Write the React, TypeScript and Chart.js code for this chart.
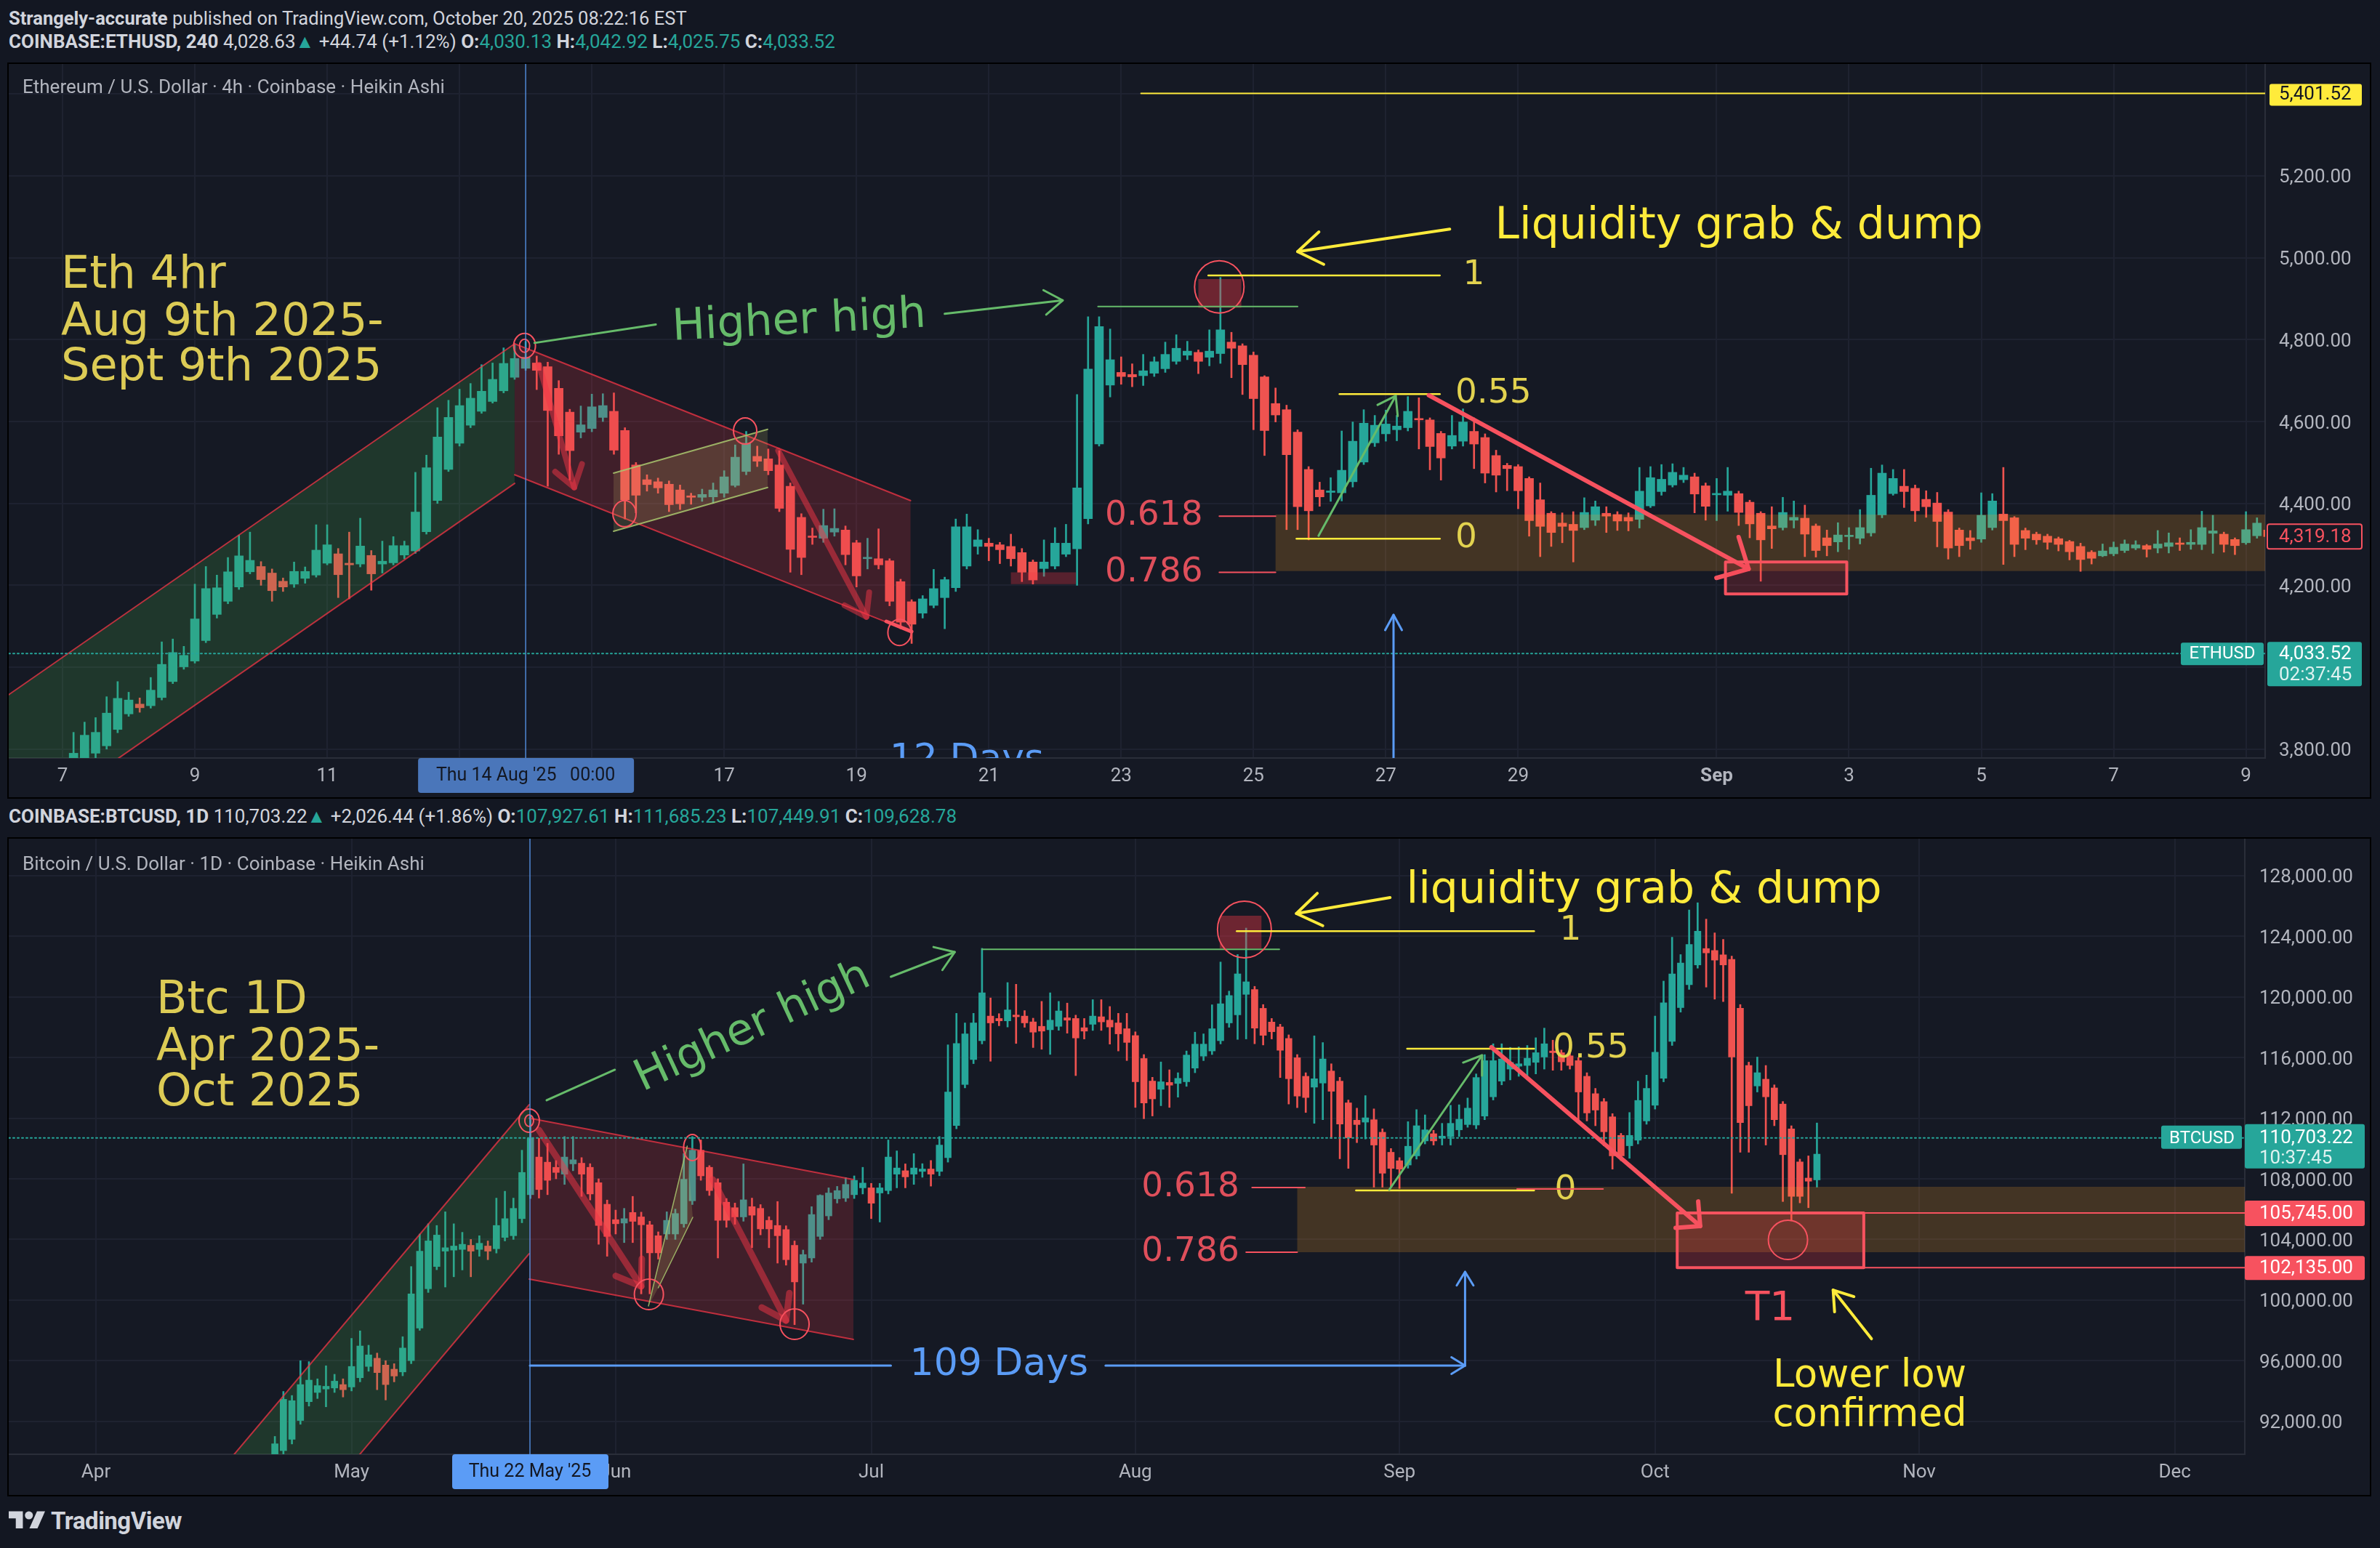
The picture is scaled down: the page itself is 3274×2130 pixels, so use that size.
import React, { useEffect, useRef } from "react";
import { Chart, registerables } from "chart.js";

Chart.register(...registerables);

// ================= DATA =================
// ETH/USD 4h Heikin Ashi bars. Bar index 0 = Thu 7 Aug 2025 00:00, one index = 4 hours.
const ethFirstBar = 1;
const ethOpen = [
  3740, 3760, 3790, 3808, 3848, 3886, 3910, 3906, 3926, 3965,
  4001, 4015, 4065, 4129, 4161, 4196, 4233, 4246, 4230, 4210,
  4203, 4217, 4225, 4254, 4277, 4254, 4252, 4273, 4252, 4255,
  4274, 4284, 4331, 4407, 4483, 4547, 4591, 4625, 4649, 4675,
  4708, 4730, 4743, 4734, 4681, 4623, 4574, 4583, 4610, 4625,
  4578, 4494, 4458, 4453, 4447, 4433, 4418, 4415, 4416, 4425,
  4444, 4478, 4515, 4509, 4494, 4442, 4366, 4320, 4315, 4330,
  4335, 4304, 4265, 4265, 4260, 4209, 4160, 4132, 4151, 4170,
  4194, 4247, 4295, 4303, 4299, 4295, 4280, 4257, 4241, 4247,
  4276, 4289, 4363, 4545, 4689, 4720, 4715, 4712, 4718, 4729,
  4747, 4762, 4769, 4757, 4766, 4794, 4785, 4762, 4709, 4644,
  4629, 4574, 4483, 4433, 4427, 4426, 4453, 4501, 4548, 4570,
  4580, 4585, 4607, 4604, 4571, 4540, 4552, 4576, 4561, 4517,
  4493, 4490, 4461, 4409, 4376, 4352, 4349, 4341, 4359, 4376,
  4373, 4366, 4361, 4394, 4429, 4445, 4458, 4465, 4443, 4421,
  4420, 4424, 4403, 4376, 4345, 4341, 4359, 4364, 4345, 4316,
  4306, 4319, 4315, 4328, 4372, 4424, 4442, 4437, 4410, 4401,
  4379, 4335, 4316, 4313, 4341, 4374, 4365, 4334, 4325, 4320,
  4314, 4307, 4295, 4281, 4272, 4277, 4285, 4291, 4297, 4291,
  4295, 4302, 4300, 4300, 4327, 4325, 4312, 4304, 4321, 4335,
];
const ethHigh = [
  3841, 3866, 3877, 3928, 3965, 3939, 3925, 3975, 4062, 4069,
  4051, 4203, 4246, 4225, 4268, 4323, 4330, 4258, 4240, 4218,
  4257, 4245, 4348, 4348, 4290, 4330, 4364, 4285, 4308, 4319,
  4308, 4476, 4518, 4634, 4652, 4679, 4693, 4739, 4743, 4780,
  4788, 4796, 4760, 4745, 4700, 4630, 4638, 4667, 4668, 4670,
  4585, 4500, 4470, 4462, 4455, 4445, 4425, 4435, 4450, 4480,
  4543, 4576, 4540, 4533, 4529, 4450, 4375, 4340, 4386, 4387,
  4345, 4310, 4315, 4338, 4265, 4215, 4165, 4175, 4239, 4220,
  4362, 4374, 4336, 4315, 4305, 4325, 4290, 4262, 4311, 4341,
  4349, 4666, 4856, 4856, 4826, 4758, 4741, 4764, 4758, 4794,
  4812, 4796, 4775, 4824, 4952, 4818, 4790, 4770, 4712, 4682,
  4640, 4580, 4490, 4452, 4463, 4577, 4599, 4629, 4615, 4628,
  4615, 4661, 4658, 4609, 4576, 4615, 4631, 4609, 4570, 4530,
  4498, 4495, 4465, 4450, 4380, 4377, 4380, 4414, 4406, 4392,
  4380, 4377, 4488, 4490, 4495, 4497, 4488, 4474, 4450, 4461,
  4488, 4430, 4408, 4380, 4392, 4415, 4406, 4396, 4350, 4335,
  4353, 4341, 4385, 4486, 4494, 4483, 4483, 4445, 4431, 4427,
  4385, 4340, 4334, 4426, 4424, 4488, 4368, 4340, 4330, 4325,
  4318, 4310, 4303, 4285, 4301, 4306, 4311, 4309, 4300, 4334,
  4328, 4316, 4336, 4381, 4371, 4330, 4316, 4380, 4365, 4345,
];
const ethLow = [
  3720, 3740, 3770, 3800, 3840, 3880, 3890, 3900, 3920, 3960,
  3995, 4010, 4060, 4120, 4155, 4190, 4228, 4200, 4161, 4185,
  4195, 4205, 4220, 4250, 4170, 4167, 4245, 4188, 4230, 4250,
  4265, 4278, 4325, 4400, 4478, 4540, 4585, 4620, 4645, 4670,
  4703, 4725, 4678, 4442, 4520, 4457, 4560, 4575, 4600, 4520,
  4362, 4377, 4430, 4425, 4380, 4385, 4398, 4405, 4400, 4415,
  4440, 4470, 4490, 4470, 4380, 4232, 4226, 4300, 4305, 4320,
  4250, 4196, 4240, 4240, 4150, 4094, 4058, 4120, 4145, 4094,
  4185, 4240, 4276, 4260, 4253, 4247, 4209, 4203, 4222, 4240,
  4270, 4200, 4350, 4540, 4660, 4691, 4685, 4688, 4710, 4720,
  4740, 4751, 4717, 4736, 4742, 4707, 4666, 4580, 4517, 4599,
  4336, 4336, 4311, 4393, 4405, 4406, 4440, 4495, 4539, 4552,
  4553, 4577, 4533, 4482, 4457, 4533, 4540, 4485, 4450, 4428,
  4431, 4387, 4320, 4270, 4295, 4304, 4257, 4336, 4346, 4329,
  4334, 4333, 4340, 4390, 4420, 4440, 4451, 4377, 4359, 4358,
  4381, 4346, 4316, 4210, 4290, 4335, 4340, 4270, 4269, 4272,
  4282, 4288, 4301, 4320, 4365, 4420, 4390, 4356, 4366, 4294,
  4264, 4270, 4288, 4305, 4335, 4251, 4270, 4287, 4300, 4288,
  4284, 4262, 4234, 4252, 4270, 4272, 4280, 4287, 4269, 4279,
  4279, 4285, 4288, 4287, 4278, 4281, 4275, 4300, 4315, 4310,
];
const ethClose = [
  3790, 3834, 3841, 3888, 3924, 3920, 3901, 3944, 4007, 4036,
  4029, 4118, 4192, 4194, 4233, 4272, 4261, 4214, 4187, 4196,
  4234, 4234, 4286, 4299, 4226, 4250, 4296, 4228, 4259, 4297,
  4297, 4379, 4487, 4562, 4610, 4639, 4657, 4674, 4703, 4742,
  4754, 4757, 4725, 4627, 4565, 4529, 4592, 4636, 4639, 4530,
  4409, 4420, 4446, 4438, 4397, 4399, 4415, 4422, 4433, 4465,
  4513, 4547, 4503, 4480, 4388, 4288, 4268, 4317, 4346, 4339,
  4275, 4223, 4268, 4250, 4161, 4110, 4105, 4167, 4192, 4214,
  4343, 4343, 4311, 4295, 4287, 4265, 4232, 4213, 4257, 4303,
  4303, 4438, 4728, 4832, 4751, 4710, 4709, 4724, 4746, 4764,
  4779, 4772, 4747, 4772, 4824, 4779, 4739, 4656, 4578, 4616,
  4519, 4392, 4382, 4416, 4430, 4481, 4552, 4596, 4591, 4594,
  4589, 4625, 4604, 4539, 4511, 4566, 4599, 4545, 4474, 4469,
  4485, 4431, 4358, 4344, 4329, 4344, 4334, 4378, 4392, 4369,
  4357, 4357, 4430, 4463, 4459, 4476, 4469, 4423, 4393, 4423,
  4430, 4378, 4350, 4311, 4338, 4378, 4366, 4325, 4285, 4297,
  4323, 4321, 4341, 4420, 4474, 4461, 4429, 4382, 4392, 4356,
  4291, 4297, 4309, 4371, 4406, 4358, 4300, 4315, 4311, 4305,
  4300, 4282, 4263, 4266, 4284, 4293, 4301, 4299, 4288, 4301,
  4304, 4300, 4305, 4341, 4333, 4300, 4297, 4336, 4352, 4319,
];
const ethTickBars = [0, 12, 24, 36, 48, 60, 72, 84, 96, 108, 120, 132, 150, 162, 174, 186, 198];
const ethTickLabels = ["7", "9", "11", "13", "15", "17", "19", "21", "23", "25", "27", "29", "Sep", "3", "5", "7", "9"];
const ethPriceTicks = [3800, 4000, 4200, 4400, 4600, 4800, 5000, 5200, 5400];
const ethAlertLevel = 5401.52;
const ethLastBarClose = 4319.18;
const ethLivePrice = 4033.52;

// BTC/USD 1D Heikin Ashi bars. Day 0 = 1 Apr 2025.
const btcFirstDay = 21;
const btcOpen = [
  89340, 90062, 90808, 92049, 93292, 93901, 94127, 94195, 94421, 94263,
  94872, 95617, 96159, 95707, 95436, 95255, 96000, 98146, 100744, 102211,
  103226, 103294, 103339, 103610, 103339, 103565, 103384, 104130, 104243, 105372,
  106952, 109436, 109098, 108759, 108307, 108985, 109030, 108759, 107743, 106320,
  105304, 105078, 105778, 105485, 104965, 104243, 104356, 104356, 105033, 106547,
  109888, 108759, 107743, 106455, 106094, 105485, 106162, 106049, 105259, 104920,
  104650, 103610, 102437, 102775, 104198, 105552, 106681, 106727, 106952, 107404,
  107404, 107065, 107223, 108307, 108533, 108307, 108488, 108646, 108488, 109391,
  111514, 114223, 115871, 117114, 118739, 118581, 118423, 118807, 118739, 118356,
  118062, 117836, 118062, 118626, 118581, 117971, 118197, 118694, 118468, 118288,
  117904, 117452, 115939, 114449, 113907, 114359, 114291, 114404, 115307, 116097,
  116436, 117114, 118288, 118820, 120172, 120491, 119250, 118343, 118025, 117262,
  115989, 114764, 114048, 114318, 115113, 114445, 113013, 111867, 111740, 111900,
  111073, 109752, 109195, 108909, 109513, 110500, 110976, 110706, 110785, 111232,
  111581, 111549, 112138, 113411, 114445, 115240, 115431, 115479, 115686, 116037,
  116434, 116323, 116116, 115798, 114764, 113618, 113093, 112091, 110865, 110181,
  110547, 111820, 112854, 114636, 117070, 119298, 120809, 122114, 123195, 123068,
  122782, 122480, 119250, 115479, 114127, 114573, 113998, 112934, 111295, 109115,
  108050, 107927,
];
const btcHigh = [
  91000, 93969, 93700, 95999, 95934, 94800, 95662, 95100, 94800, 97469,
  97966, 97017, 96500, 96000, 95800, 97582, 102211, 104356, 105033, 104920,
  105823, 105033, 104469, 104000, 104243, 103900, 106727, 107179, 106727, 109888,
  112146, 110678, 110340, 109200, 110791, 110791, 109400, 109000, 108000, 106600,
  105936, 106049, 106840, 105800, 105200, 104500, 105823, 106000, 109662, 110791,
  110565, 108872, 108000, 106700, 106400, 108985, 106727, 106300, 105500, 106501,
  104900, 103900, 103300, 106162, 106952, 107404, 107500, 108082, 108194, 108759,
  107700, 107700, 110565, 109843, 108985, 109662, 109000, 109210, 110791, 116842,
  118920, 118288, 118920, 123210, 119936, 118900, 120952, 120839, 119100, 118600,
  119710, 120275, 119710, 119597, 118800, 118581, 119823, 119823, 119371, 118920,
  118920, 117700, 116200, 114700, 115713, 115194, 115000, 116436, 117678, 117565,
  119484, 122307, 120387, 122800, 124548, 120700, 119500, 118582, 118200, 117500,
  116200, 115000, 117436, 116991, 115590, 114700, 113200, 112663, 113490, 112615,
  111300, 110000, 109400, 111772, 112568, 112218, 111200, 111661, 112854, 112886,
  113331, 114922, 116195, 116911, 116911, 116673, 116705, 116800, 117309, 117945,
  117150, 116500, 116300, 116000, 115000, 113968, 113300, 112300, 111000, 112377,
  114445, 114843, 118741, 121048, 123943, 122798, 125741, 126218, 125137, 124230,
  123800, 122700, 119500, 115700, 116036, 115479, 114200, 113100, 111500, 109300,
  109513, 111685,
];
const btcLow = [
  88900, 89800, 90500, 91800, 93000, 93500, 92953, 93900, 93600, 94000,
  94600, 95300, 94082, 93405, 94600, 95000, 95800, 98000, 100500, 102000,
  100856, 101533, 101985, 101533, 102888, 102662, 103100, 103900, 104000, 105100,
  106700, 106727, 106952, 108000, 107630, 108533, 106840, 106600, 103678, 102888,
  104356, 103791, 103791, 100406, 100406, 102700, 104000, 104000, 104800, 106300,
  107900, 106900, 102775, 104800, 105000, 105200, 103452, 104300, 103452, 102437,
  102300, 98372, 99727, 102500, 104000, 105300, 106400, 106500, 106700, 106998,
  105372, 105146, 107000, 107404, 107404, 107630, 108100, 107517, 108200, 109100,
  111300, 114000, 115600, 116900, 115759, 118100, 118017, 116933, 118000, 116662,
  116549, 116210, 117800, 117610, 114810, 117226, 117791, 117791, 116888, 116436,
  115804, 112711, 111965, 112146, 112823, 112711, 113388, 114100, 115000, 115800,
  116200, 116900, 118000, 117200, 117229, 116911, 116832, 117229, 114683, 112934,
  112695, 112377, 111661, 111900, 110658, 109322, 108686, 110388, 110627, 107445,
  107445, 107477, 107365, 108700, 109300, 110300, 110229, 110229, 110229, 110786,
  111400, 111300, 111900, 113200, 114200, 114525, 114763, 114763, 114922, 115240,
  115161, 115161, 115240, 111772, 111820, 111502, 110181, 108638, 109195, 109354,
  110300, 111600, 112600, 114400, 116800, 119000, 120500, 121900, 120650, 119854,
  119695, 107047, 109752, 109752, 113729, 110229, 111502, 106500, 105217, 106411,
  106093, 107450,
];
const btcClose = [
  90514, 93450, 93360, 94420, 94714, 94353, 94308, 94647, 94082, 95617,
  96968, 96381, 95210, 94421, 94985, 96833, 100406, 103226, 103904, 104288,
  103452, 103565, 103678, 103226, 103746, 103226, 104920, 105372, 106049, 108420,
  110678, 107291, 107901, 108420, 109436, 109256, 108307, 106998, 104920, 104198,
  105033, 105372, 105191, 104965, 103113, 103113, 105259, 105710, 107969, 109888,
  108194, 107223, 105259, 105259, 105485, 106614, 105598, 104694, 104694, 104243,
  102662, 101195, 103001, 105643, 106907, 107065, 107223, 107630, 107901, 107720,
  106388, 107404, 109436, 108714, 108126, 108714, 108646, 108307, 110226, 113726,
  116933, 117565, 118288, 120275, 118288, 118423, 119146, 118694, 118288, 117678,
  117746, 118468, 119078, 118468, 117294, 117746, 118739, 118356, 118017, 117565,
  117000, 114404, 113004, 113275, 114404, 114178, 114630, 116165, 116888, 116888,
  117904, 119552, 120094, 121525, 121000, 117945, 117468, 117707, 116482, 114604,
  113459, 113364, 114604, 115909, 113777, 111613, 110706, 111581, 112026, 110229,
  108368, 108686, 108638, 110149, 111502, 111232, 110500, 110817, 111661, 111931,
  112663, 114684, 115798, 115798, 115909, 115686, 115590, 115957, 116323, 116911,
  116323, 115718, 115479, 113730, 112345, 112536, 111104, 109513, 109513, 110865,
  113172, 113968, 116354, 119616, 121525, 122241, 123466, 124341, 122909, 122432,
  122114, 116037, 111708, 112822, 115002, 113411, 111900, 109593, 106840, 106840,
  107843, 109629,
];
const btcTickDays = [0, 30, 61, 91, 122, 153, 183, 214, 244];
const btcTickLabels = ["Apr", "May", "Jun", "Jul", "Aug", "Sep", "Oct", "Nov", "Dec"];
const btcPriceTicks = [92000, 96000, 100000, 104000, 108000, 112000, 116000, 120000, 124000, 128000];
const btcLivePrice = 110703.22;
const btcTargetTop = 105745;
const btcTargetBottom = 102135;

// ================= STYLE =================
const UP = "#26a69a";
const DOWN = "#ef5350";
const PANE = "#151924";
const GRID = "#1e2230";
const AXIS = "#2a2e39";
const TICK = "#b2b5be";
const RED = "#f7525f";
const YEL = "#ffeb3b";
const NOTE_YEL = "#dccb55";
const FIB_TXT = "#e2d24f";
const FIB_RED = "#df4f5b";
const GREEN = "#66bb6a";
const BLUE = "#5b9cf6";
const ZONE = "rgba(255,160,40,0.2)";
const GREEN_FILL = "rgba(76,175,80,0.2)";
const RED_FILL = "rgba(242,54,69,0.2)";
const FLAG_FILL = "rgba(220,210,110,0.16)";
const FLAG_EDGE = "rgba(170,200,110,0.85)";
const EDGE = "rgba(242,54,69,0.75)";
const ARROW_FILL = "rgba(242,54,69,0.5)";
const DF = '"DejaVu Sans"';

type P = [number, number];

function path(ctx: any, pts: P[], close = false) {
  ctx.beginPath();
  pts.forEach((p, i) => (i ? ctx.lineTo(p[0], p[1]) : ctx.moveTo(p[0], p[1])));
  if (close) ctx.closePath();
}
function stroke(ctx: any, pts: P[], color: string, w: number, dash: number[] = []) {
  path(ctx, pts);
  ctx.strokeStyle = color;
  ctx.lineWidth = w;
  ctx.lineCap = "round";
  ctx.lineJoin = "round";
  ctx.setLineDash(dash);
  ctx.stroke();
  ctx.setLineDash([]);
}
function fill(ctx: any, pts: P[], color: string) {
  path(ctx, pts, true);
  ctx.fillStyle = color;
  ctx.fill();
}
function arrow(ctx: any, a: P, b: P, color: string, w: number, len: number, spread = 0.55) {
  stroke(ctx, [a, b], color, w);
  const ang = Math.atan2(b[1] - a[1], b[0] - a[0]);
  stroke(
    ctx,
    [
      [b[0] - len * Math.cos(ang - spread), b[1] - len * Math.sin(ang - spread)],
      b,
      [b[0] - len * Math.cos(ang + spread), b[1] - len * Math.sin(ang + spread)],
    ],
    color,
    w
  );
}
function ellipse(ctx: any, c: P, rx: number, ry: number, color: string, w: number) {
  ctx.beginPath();
  ctx.ellipse(c[0], c[1], rx, ry, 0, 0, Math.PI * 2);
  ctx.strokeStyle = color;
  ctx.lineWidth = w;
  ctx.stroke();
}
function text(ctx: any, s: string, p: P, size: number, color: string, align = "left", rot = 0, family = DF, weight = "normal") {
  ctx.save();
  ctx.translate(p[0], p[1]);
  if (rot) ctx.rotate((rot * Math.PI) / 180);
  ctx.font = `${weight} ${size}px ${family}`;
  ctx.fillStyle = color;
  ctx.textAlign = align;
  ctx.textBaseline = "middle";
  ctx.fillText(s, 0, 0);
  ctx.restore();
}
function rbox(ctx: any, x: number, y: number, w: number, h: number, bg: string | null, border: string | null = null, r = 3) {
  ctx.beginPath();
  if (ctx.roundRect) ctx.roundRect(x, y, w, h, r);
  else ctx.rect(x, y, w, h);
  if (bg) {
    ctx.fillStyle = bg;
    ctx.fill();
  }
  if (border) {
    ctx.strokeStyle = border;
    ctx.lineWidth = 2;
    ctx.stroke();
  }
}
const fmt = (v: number) => v.toLocaleString("en-US", { minimumFractionDigits: 2, maximumFractionDigits: 2 });

// ================= ETH DRAWINGS =================
function drawEthPlot(ctx: any, X: any, Y: any, a: any) {
  const pt = (k: number, p: number): P => [X(k), Y(p)];
  // support zone
  fill(ctx, [pt(110, 4373), [a.right, Y(4373)], [a.right, Y(4235)], pt(110, 4235)], ZONE);
  // rising channel
  const g = [pt(-6, 3912), pt(41, 4790), pt(41, 4449), pt(-6, 3571)];
  fill(ctx, g, GREEN_FILL);
  stroke(ctx, [g[0], g[1]], EDGE, 2);
  stroke(ctx, [g[3], g[2]], EDGE, 2);
  // falling channel
  const r = [pt(41, 4790), pt(76.9, 4407), pt(76.9, 4087), pt(41, 4470)];
  fill(ctx, r, RED_FILL);
  stroke(ctx, [r[0], r[1]], EDGE, 2);
  stroke(ctx, [r[3], r[2]], EDGE, 2);
  // bear flag
  const f = [pt(49.97, 4474), pt(63.94, 4581), pt(63.94, 4439), pt(49.97, 4332)];
  fill(ctx, f, FLAG_FILL);
  stroke(ctx, [f[0], f[1]], FLAG_EDGE, 2);
  stroke(ctx, [f[3], f[2]], FLAG_EDGE, 2);
  // small boxes
  fill(ctx, [pt(86, 4232), pt(91.9, 4232), pt(91.9, 4203), pt(86, 4203)], "rgba(242,54,69,0.3)");
  fill(ctx, [pt(103, 4948), pt(106.9, 4948), pt(106.9, 4878), pt(103, 4878)], "rgba(242,54,69,0.4)");
  // drawn arrows in channel
  arrow(ctx, pt(43.2, 4739), pt(46.4, 4439), ARROW_FILL, 8, 34, 0.6);
  arrow(ctx, pt(64.9, 4529), pt(72.9, 4123), ARROW_FILL, 8, 34, 0.6);
  stroke(ctx, [pt(74.7, 4112), pt(77.0, 4087)], RED, 5);
  // circles
  ellipse(ctx, pt(41.9, 4785), 15, 17, RED, 2);
  ellipse(ctx, pt(41.9, 4785), 7, 9, RED, 2);
  ellipse(ctx, pt(50.96, 4375), 16, 18, RED, 2);
  ellipse(ctx, pt(61.9, 4577), 16, 18, RED, 2);
  ellipse(ctx, pt(75.9, 4085), 16, 18, RED, 2);
  ellipse(ctx, pt(104.9, 4929), 34, 36, RED, 2);
  // crosshair
  stroke(ctx, [[X(42), a.top], [X(42), a.bottom]], "rgba(91,156,246,0.85)", 1.5);
  // live price dotted line
  stroke(ctx, [[a.left, Y(ethLivePrice)], [a.right, Y(ethLivePrice)]], UP, 2, [2, 4]);
  // alert line
  stroke(ctx, [pt(97.8, ethAlertLevel), [a.right, Y(ethAlertLevel)]], YEL, 2);
  // higher high line
  stroke(ctx, [pt(93.9, 4881), pt(112, 4881)], GREEN, 2);
  // fib levels
  stroke(ctx, [pt(103.9, 4957), pt(124.9, 4957)], YEL, 2.5);
  stroke(ctx, [pt(115.8, 4667), pt(124.9, 4667)], YEL, 2.5);
  stroke(ctx, [pt(111.9, 4314), pt(124.9, 4314)], YEL, 2.5);
  text(ctx, "1", pt(127.0, 4957), 47, FIB_TXT);
  text(ctx, "0.55", pt(126.3, 4667), 47, FIB_TXT);
  text(ctx, "0", pt(126.3, 4314), 47, FIB_TXT);
  stroke(ctx, [pt(104.9, 4369), pt(110, 4369)], RED, 2);
  stroke(ctx, [pt(104.9, 4232), pt(110, 4232)], RED, 2);
  text(ctx, "0.618", pt(103.4, 4369), 47, FIB_RED, "right");
  text(ctx, "0.786", pt(103.4, 4232), 47, FIB_RED, "right");
  // fib leg arrow
  arrow(ctx, pt(113.9, 4321), pt(120.9, 4663), GREEN, 3, 28, 0.6);
  // down trend arrow + target box
  arrow(ctx, pt(123.9, 4664), pt(152.9, 4240), RED, 6, 46, 0.77);
  fill(ctx, [pt(150.8, 4257), pt(161.8, 4257), pt(161.8, 4179), pt(150.8, 4179)], "rgba(242,54,69,0.2)");
  stroke(ctx, [pt(150.8, 4257), pt(161.8, 4257), pt(161.8, 4179), pt(150.8, 4179), pt(150.8, 4257)], RED, 4);
  // texts
  text(ctx, "Eth 4hr", pt(-0.13, 4955), 62, NOTE_YEL);
  text(ctx, "Aug 9th 2025-", pt(-0.13, 4840), 62, NOTE_YEL);
  text(ctx, "Sept 9th 2025", pt(-0.13, 4730), 62, NOTE_YEL);
  stroke(ctx, [pt(42.8, 4792), pt(53.8, 4837)], GREEN, 3);
  text(ctx, "Higher high", pt(66.8, 4843), 60, GREEN, "center", -3);
  arrow(ctx, pt(80.0, 4863), pt(90.7, 4896), GREEN, 3, 30, 0.6);
  text(ctx, "Liquidity grab & dump", pt(129.9, 5075), 60, YEL);
  arrow(ctx, pt(125.8, 5070), pt(112.0, 5015), YEL, 4, 40, 0.6);
  // days measure
  arrow(ctx, [X(120.7), a.bottom + 10], pt(120.7, 4128), BLUE, 3, 24, 0.5);
  text(ctx, "12 Days", pt(82.0, 3772), 52, BLUE, "center");
}

function drawEthAxis(chart: any, ctx: any, X: any, Y: any, a: any) {
  const yl = chart.scales.y.left;
  rbox(ctx, yl + 6, Y(ethAlertLevel) - 13, 127, 30, YEL);
  text(ctx, fmt(ethAlertLevel), [yl + 19, Y(ethAlertLevel) + 2], 26, "#131722", "left", 0, "Roboto");
  rbox(ctx, yl + 3, Y(ethLastBarClose) - 17, 130, 34, PANE, RED);
  text(ctx, fmt(ethLastBarClose), [yl + 19, Y(ethLastBarClose) + 1], 26, RED, "left", 0, "Roboto");
  rbox(ctx, yl + 3, Y(ethLivePrice) - 16, 130, 61, UP);
  text(ctx, fmt(ethLivePrice), [yl + 19, Y(ethLivePrice) + 1], 26, "#ffffff", "left", 0, "Roboto");
  text(ctx, "02:37:45", [yl + 19, Y(ethLivePrice) + 30], 26, "rgba(255,255,255,0.85)", "left", 0, "Roboto");
  rbox(ctx, yl - 116, Y(ethLivePrice) - 15, 114, 31, UP);
  text(ctx, "ETHUSD", [yl - 59, Y(ethLivePrice) + 1], 24, "#ffffff", "center", 0, "Roboto");
  const cx = X(42);
  rbox(ctx, cx - 148, a.bottom, 297, 48, "#4a76ba", null, 4);
  text(ctx, "Thu 14 Aug '25   00:00", [cx, a.bottom + 25], 25, "#131722", "center", 0, "Roboto");
}

// ================= BTC DRAWINGS =================
function drawBtcPlot(ctx: any, X: any, Y: any, a: any) {
  const pt = (d: number, p: number): P => [X(d), Y(p)];
  // support zone
  fill(ctx, [pt(141.0, 107472), [a.right, Y(107472)], [a.right, Y(103156)], pt(141.0, 103156)], ZONE);
  // rising channel
  const g = [pt(10, 85672), pt(50.85, 112892), pt(50.85, 103060), pt(10, 75854)];
  fill(ctx, g, GREEN_FILL);
  stroke(ctx, [g[0], g[1]], EDGE, 2);
  stroke(ctx, [g[3], g[2]], EDGE, 2);
  // falling channel
  const r = [pt(50.85, 112000), pt(88.9, 107952), pt(88.9, 97400), pt(50.85, 101381)];
  fill(ctx, r, RED_FILL);
  stroke(ctx, [r[0], r[1]], EDGE, 2);
  stroke(ctx, [r[3], r[2]], EDGE, 2);
  // flag sliver
  const f = [pt(64.85, 99607), pt(69.4, 110159), pt(70.05, 105458), pt(66.0, 100806)];
  fill(ctx, f, FLAG_FILL);
  stroke(ctx, [f[0], f[1]], FLAG_EDGE, 1.5);
  stroke(ctx, [f[3], f[2]], FLAG_EDGE, 1.5);
  // drawn arrows in channel
  arrow(ctx, pt(52.0, 111213), pt(64.0, 100900), ARROW_FILL, 9, 38, 0.6);
  arrow(ctx, pt(72.4, 107952), pt(81.0, 98647), ARROW_FILL, 9, 38, 0.6);
  // circles
  ellipse(ctx, pt(50.85, 111837), 14, 16, RED, 2);
  ellipse(ctx, pt(50.85, 111837), 6, 8, RED, 2);
  ellipse(ctx, pt(64.9, 100374), 20, 21, RED, 2);
  ellipse(ctx, pt(70.0, 110062), 12, 18, RED, 2);
  ellipse(ctx, pt(82.0, 98407), 20, 21, RED, 2);
  // crosshair
  stroke(ctx, [[X(50.94), a.top], [X(50.94), a.bottom]], "rgba(91,156,246,0.85)", 1.5);
  // live price dotted line
  stroke(ctx, [[a.left, Y(btcLivePrice)], [a.right, Y(btcLivePrice)]], UP, 2, [2, 4]);
  // higher high line
  stroke(ctx, [pt(104.0, 123140), pt(138.9, 123140)], GREEN, 2);
  // liquidity grab box + circle
  fill(ctx, [pt(131.9, 125362), pt(136.8, 125362), pt(136.8, 123204), pt(131.9, 123204)], "rgba(242,54,69,0.4)");
  ellipse(ctx, pt(134.8, 124450), 37, 39, RED, 2);
  // fib levels
  stroke(ctx, [pt(133.9, 124341), pt(168.8, 124341)], YEL, 2.5);
  stroke(ctx, [pt(153.9, 116585), pt(168.8, 116585)], YEL, 2.5);
  stroke(ctx, [pt(147.9, 107233), pt(168.8, 107233)], YEL, 2.5);
  text(ctx, "1", pt(171.8, 124341), 47, FIB_TXT);
  text(ctx, "0.55", pt(171.0, 116585), 47, FIB_TXT);
  text(ctx, "0", pt(171.2, 107233), 47, FIB_TXT);
  stroke(ctx, [pt(135.7, 107424), pt(141.9, 107424)], RED, 2);
  stroke(ctx, [pt(166.8, 107329), pt(176.9, 107329)], RED, 2);
  stroke(ctx, [pt(135.0, 103156), pt(141.0, 103156)], RED, 2);
  text(ctx, "0.618", pt(134.2, 107424), 47, FIB_RED, "right");
  text(ctx, "0.786", pt(134.2, 103156), 47, FIB_RED, "right");
  // fib leg arrow
  arrow(ctx, pt(151.8, 107281), pt(162.7, 116153), GREEN, 3, 28, 0.6);
  // target box
  fill(ctx, [pt(185.6, btcTargetTop), pt(207.5, btcTargetTop), pt(207.5, btcTargetBottom), pt(185.6, btcTargetBottom)], "rgba(242,54,69,0.25)");
  stroke(ctx, [pt(185.6, btcTargetTop), pt(207.5, btcTargetTop), pt(207.5, btcTargetBottom), pt(185.6, btcTargetBottom), pt(185.6, btcTargetTop)], RED, 4);
  stroke(ctx, [pt(207.5, btcTargetTop), [a.right, Y(btcTargetTop)]], RED, 2);
  stroke(ctx, [pt(207.5, btcTargetBottom), [a.right, Y(btcTargetBottom)]], RED, 2);
  // down trend arrow
  arrow(ctx, pt(163.8, 116681), pt(188.3, 104882), RED, 6, 34, 0.78);
  ellipse(ctx, pt(198.6, 103971), 27, 27, RED, 2);
  text(ctx, "T1", pt(196.5, 99368), 55, RED, "center");
  arrow(ctx, pt(208.4, 97445), pt(203.9, 100658), YEL, 4, 30, 0.6);
  text(ctx, "Lower low", pt(208.2, 94956), 53, YEL, "center");
  text(ctx, "confirmed", pt(208.2, 92366), 53, YEL, "center");
  // liquidity text
  text(ctx, "liquidity grab & dump", pt(153.8, 126993), 60, YEL);
  arrow(ctx, pt(151.9, 126561), pt(140.9, 125506), YEL, 4, 40, 0.6);
  // title note
  text(ctx, "Btc 1D", pt(7.08, 119703), 62, NOTE_YEL);
  text(ctx, "Apr 2025-", pt(7.08, 116585), 62, NOTE_YEL);
  text(ctx, "Oct 2025", pt(7.08, 113612), 62, NOTE_YEL);
  // higher high
  stroke(ctx, [pt(52.9, 113181), pt(60.9, 115195)], GREEN, 3);
  text(ctx, "Higher high", pt(77.1, 117976), 60, GREEN, "center", -25);
  arrow(ctx, pt(93.3, 121333), pt(100.8, 122964), GREEN, 3, 30, 0.6);
  // days measure
  stroke(ctx, [pt(50.94, 95675), pt(93.3, 95675)], BLUE, 3);
  arrow(ctx, pt(118.5, 95675), pt(160.7, 95675), BLUE, 3, 22, 0.55);
  arrow(ctx, pt(160.7, 95675), pt(160.7, 101862), BLUE, 3, 22, 0.55);
  text(ctx, "109 Days", pt(106.0, 95675), 52, BLUE, "center");
}

function drawBtcAxis(chart: any, ctx: any, X: any, Y: any, a: any) {
  const yl = chart.scales.y.left;
  rbox(ctx, yl, Y(btcLivePrice) - 19, 165, 61, UP);
  text(ctx, fmt(btcLivePrice), [yl + 20, Y(btcLivePrice) + 1], 26, "#ffffff", "left", 0, "Roboto");
  text(ctx, "10:37:45", [yl + 20, Y(btcLivePrice) + 29], 26, "rgba(255,255,255,0.85)", "left", 0, "Roboto");
  rbox(ctx, yl - 115, Y(btcLivePrice) - 17, 111, 32, UP);
  text(ctx, "BTCUSD", [yl - 59, Y(btcLivePrice) + 1], 24, "#ffffff", "center", 0, "Roboto");
  rbox(ctx, yl, Y(btcTargetTop) - 17, 165, 35, RED);
  text(ctx, fmt(btcTargetTop), [yl + 20, Y(btcTargetTop) + 1], 26, "#ffffff", "left", 0, "Roboto");
  rbox(ctx, yl, Y(btcTargetBottom) - 16, 165, 33, RED);
  text(ctx, fmt(btcTargetBottom), [yl + 20, Y(btcTargetBottom) + 1], 26, "#ffffff", "left", 0, "Roboto");
  const cx = X(50.94);
  rbox(ctx, cx - 107, a.bottom, 215, 48, BLUE, null, 4);
  text(ctx, "Thu 22 May '25", [cx, a.bottom + 25], 25, "#131722", "center", 0, "Roboto");
}

// ================= CHART CONFIG =================
function candleSets(first: number, o: number[], h: number[], l: number[], c: number[], body: number) {
  const colors = o.map((v, i) => (c[i] >= v ? UP : DOWN));
  return [
    {
      data: o.map((_, i) => ({ x: first + i, y: [l[i], h[i]] })),
      backgroundColor: colors,
      barThickness: 2,
      grouped: false,
      borderWidth: 0,
      order: 2,
    },
    {
      data: o.map((v, i) => ({ x: first + i, y: [v, c[i]] })),
      backgroundColor: colors,
      barThickness: body,
      minBarLength: 2,
      grouped: false,
      borderWidth: 0,
      order: 1,
    },
  ];
}

function buildConfig(p: any) {
  const plugin = {
    id: "notes",
    afterDatasetsDraw(chart: any) {
      const ctx = chart.ctx;
      const a = chart.chartArea;
      const X = (v: number) => chart.scales.x.getPixelForValue(v);
      const Y = (v: number) => chart.scales.y.getPixelForValue(v);
      ctx.save();
      ctx.beginPath();
      ctx.rect(a.left, a.top, a.right - a.left, a.bottom - a.top);
      ctx.clip();
      p.plot(ctx, X, Y, a);
      ctx.restore();
    },
    afterDraw(chart: any) {
      const ctx = chart.ctx;
      const a = chart.chartArea;
      const X = (v: number) => chart.scales.x.getPixelForValue(v);
      const Y = (v: number) => chart.scales.y.getPixelForValue(v);
      ctx.save();
      p.axis(chart, ctx, X, Y, a);
      ctx.restore();
    },
  };
  const noPad = (s: any) => {
    s.paddingTop = 0;
    s.paddingBottom = 0;
    s.paddingLeft = 0;
    s.paddingRight = 0;
  };
  return {
    type: "bar",
    data: { datasets: candleSets(p.first, p.o, p.h, p.l, p.c, p.body) },
    options: {
      animation: false,
      responsive: false,
      maintainAspectRatio: false,
      devicePixelRatio: 1,
      events: [],
      layout: { padding: 0, autoPadding: false },
      plugins: { legend: { display: false }, tooltip: { enabled: false } },
      scales: {
        x: {
          type: "linear",
          min: p.xMin,
          max: p.xMax,
          bounds: "data",
          offset: false,
          grid: { color: GRID, lineWidth: 2, offset: false, drawTicks: false },
          border: { display: true, color: AXIS, width: 2 },
          ticks: {
            autoSkip: false,
            maxRotation: 0,
            minRotation: 0,
            padding: 10,
            color: TICK,
            font: (ctx: any) => ({
              family: "Roboto",
              size: 26,
              weight: ctx.tick && ctx.tick.label === "Sep" && p.boldMonth ? "bold" : "normal",
            }),
            callback: (_v: any, i: number) => p.xLabels[i],
          },
          afterBuildTicks: (s: any) => {
            s.ticks = p.xTicks.map((v: number) => ({ value: v }));
          },
          afterFit: (s: any) => {
            s.height = p.xAxisH;
            noPad(s);
          },
        },
        y: {
          type: "linear",
          position: "right",
          min: p.yMin,
          max: p.yMax,
          bounds: "data",
          beginAtZero: false,
          grid: { color: GRID, lineWidth: 2, drawTicks: false },
          border: { display: true, color: AXIS, width: 2 },
          ticks: {
            padding: p.yPad,
            labelOffset: 3,
            color: TICK,
            font: { family: "Roboto", size: 26 },
            callback: (v: number) => fmt(v),
          },
          afterBuildTicks: (s: any) => {
            s.ticks = p.yTicks.map((v: number) => ({ value: v }));
          },
          afterFit: (s: any) => {
            s.width = p.yAxisW;
            noPad(s);
          },
        },
      },
    },
    plugins: [plugin],
  };
}

const ETH_CFG = {
  first: ethFirstBar, o: ethOpen, h: ethHigh, l: ethLow, c: ethClose, body: 12,
  xMin: -4.878, xMax: 199.74, yMin: 3778.3, yMax: 5473.3,
  xTicks: ethTickBars, xLabels: ethTickLabels, yTicks: ethPriceTicks, boldMonth: true,
  xAxisH: 54, yAxisW: 144, yPad: 19, plot: drawEthPlot, axis: drawEthAxis,
};
const BTC_CFG = {
  first: btcFirstDay, o: btcOpen, h: btcHigh, l: btcLow, c: btcClose, body: 9,
  xMin: -10.24, xMax: 252.22, yMin: 89823, yMax: 130446,
  xTicks: btcTickDays, xLabels: btcTickLabels, yTicks: btcPriceTicks, boldMonth: false,
  xAxisH: 56, yAxisW: 172, yPad: 20, plot: drawBtcPlot, axis: drawBtcAxis,
};

// ================= APP =================
const T = { color: UP };
const B = { fontWeight: 700 };

export default function App() {
  const topRef = useRef<HTMLCanvasElement | null>(null);
  const botRef = useRef<HTMLCanvasElement | null>(null);
  useEffect(() => {
    const top = new Chart(topRef.current as any, buildConfig(ETH_CFG) as any);
    const bot = new Chart(botRef.current as any, buildConfig(BTC_CFG) as any);
    return () => {
      top.destroy();
      bot.destroy();
    };
  }, []);
  const line = (top: number, size: number): any => ({
    position: "absolute",
    left: 12,
    top,
    height: 30,
    lineHeight: "30px",
    fontSize: size,
    color: "#d1d4dc",
    whiteSpace: "pre",
    fontFamily: "Roboto, sans-serif",
  });
  const panel = (top: number, h: number): any => ({
    position: "absolute",
    left: 10,
    top,
    width: 3252,
    height: h,
    border: "2px solid #000",
    boxSizing: "border-box",
    background: PANE,
  });
  const title = (top: number): any => ({
    position: "absolute",
    left: 31,
    top,
    height: 30,
    lineHeight: "30px",
    fontSize: 26,
    color: TICK,
    whiteSpace: "pre",
    fontFamily: "Roboto, sans-serif",
  });
  return (
    <div style={{ position: "absolute", left: 0, top: 0, width: 3274, height: 2130, background: "#131722", overflow: "hidden" }}>
      <div style={line(10, 25.5)}>
        <span style={B}>Strangely-accurate</span> published on TradingView.com, October 20, 2025 08:22:16 EST
      </div>
      <div style={line(42, 26)}>
        <span style={B}>COINBASE:ETHUSD, 240</span> 4,028.63<span style={T}>▲</span> +44.74 (+1.12%) <span style={B}>O:</span>
        <span style={T}>4,030.13</span> <span style={B}>H:</span><span style={T}>4,042.92</span> <span style={B}>L:</span>
        <span style={T}>4,025.75</span> <span style={B}>C:</span><span style={T}>4,033.52</span>
      </div>
      <div style={panel(86, 1013)}>
        <canvas ref={topRef} width={3248} height={1009} style={{ display: "block" }} />
      </div>
      <div style={title(104)}>Ethereum / U.S. Dollar · 4h · Coinbase · Heikin Ashi</div>
      <div style={line(1108, 26)}>
        <span style={B}>COINBASE:BTCUSD, 1D</span> 110,703.22<span style={T}>▲</span> +2,026.44 (+1.86%) <span style={B}>O:</span>
        <span style={T}>107,927.61</span> <span style={B}>H:</span><span style={T}>111,685.23</span> <span style={B}>L:</span>
        <span style={T}>107,449.91</span> <span style={B}>C:</span><span style={T}>109,628.78</span>
      </div>
      <div style={panel(1152, 907)}>
        <canvas ref={botRef} width={3248} height={903} style={{ display: "block" }} />
      </div>
      <div style={title(1173)}>Bitcoin / U.S. Dollar · 1D · Coinbase · Heikin Ashi</div>
      <div style={{ position: "absolute", left: 12, top: 2074, height: 36, display: "flex", alignItems: "center", gap: 8 }}>
        <svg width="50" height="28" viewBox="0 0 36 20">
          <path d="M14 18H7V8H0V1h14v17z" fill="#d1d4dc" />
          <circle cx="20" cy="5" r="4" fill="#d1d4dc" />
          <path d="M28 1h8l-7.5 17H20.5L28 1z" fill="#d1d4dc" />
        </svg>
        <span style={{ fontFamily: "Roboto, sans-serif", fontWeight: 700, fontSize: 33, color: "#d1d4dc", letterSpacing: -0.5 }}>TradingView</span>
      </div>
    </div>
  );
}
